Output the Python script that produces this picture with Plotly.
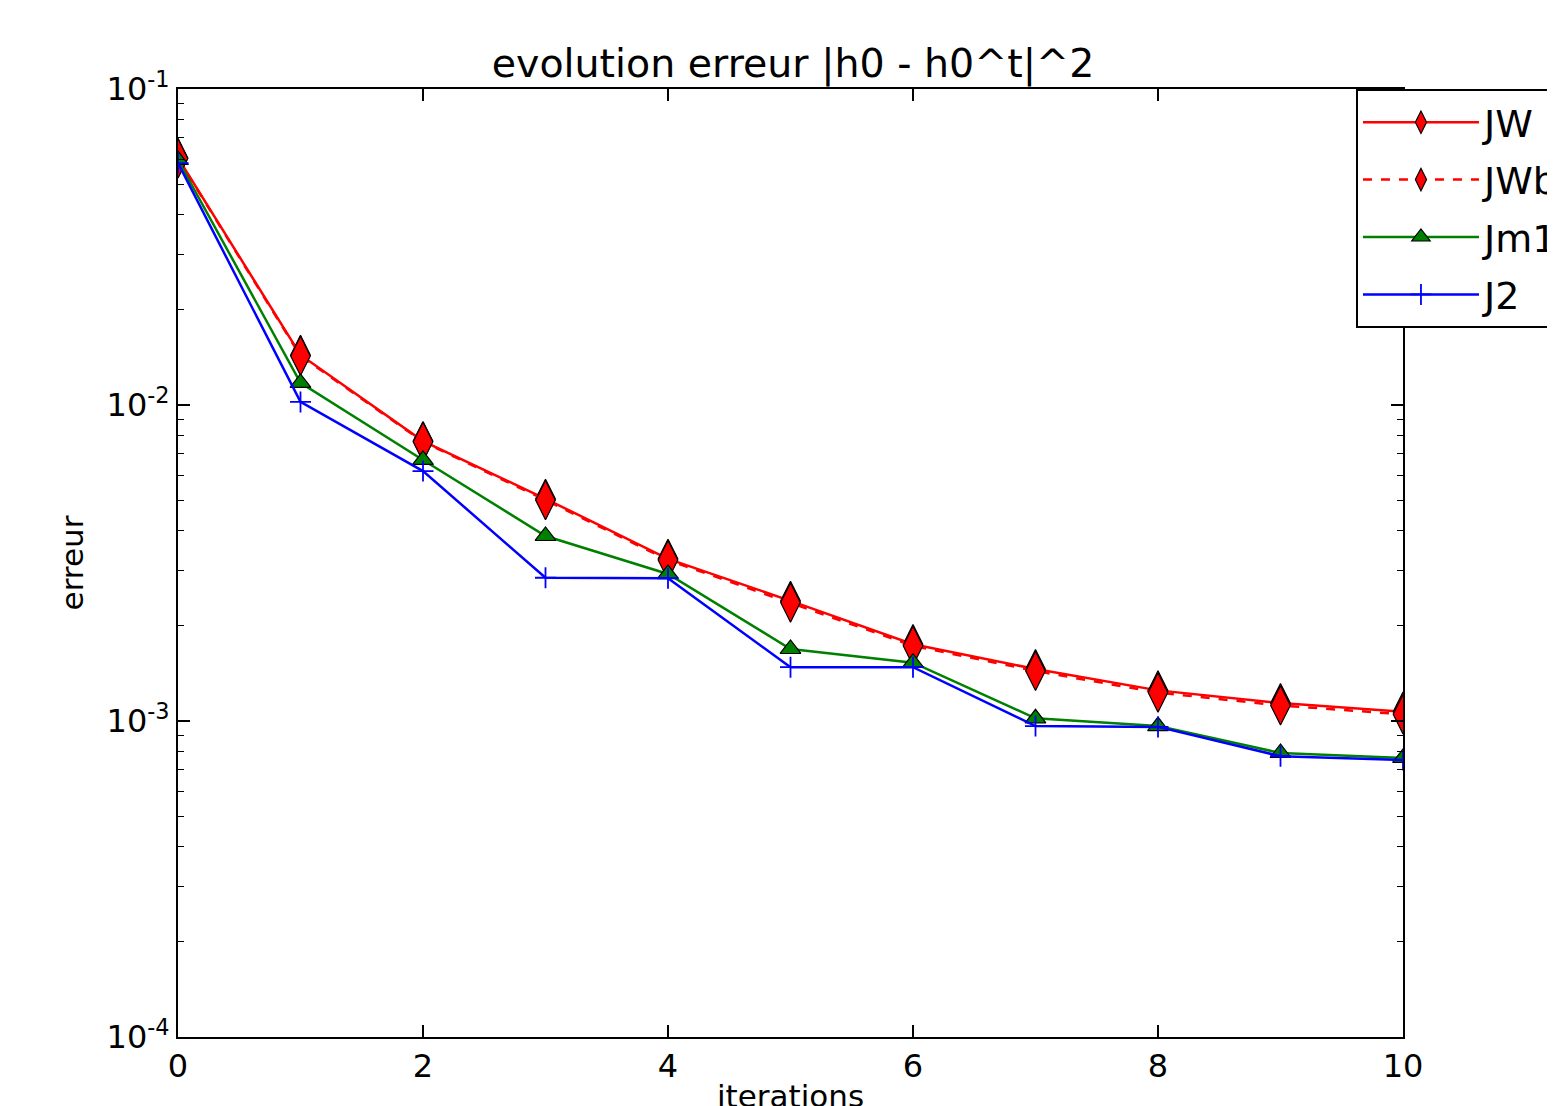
import plotly.graph_objects as go

iterations = [0, 1, 2, 3, 4, 5, 6, 7, 8, 9, 10]
err_JW = [0.0605, 0.0144, 0.00769, 0.00505, 0.00326, 0.00240, 0.00175, 0.00146, 0.00125, 0.00114, 0.00107]
err_JWb = [0.0603, 0.0143, 0.00765, 0.00500, 0.00323, 0.00237, 0.00173, 0.00144, 0.00123, 0.00112, 0.00105]
err_Jm1 = [0.0596, 0.01175, 0.00670, 0.00385, 0.00292, 0.00169, 0.00153, 0.00102, 0.000964, 0.000792, 0.000764]
err_J2 = [0.0583, 0.01023, 0.00618, 0.00284, 0.00283, 0.00148, 0.00148, 0.000964, 0.000958, 0.000774, 0.000753]

y_tickvals = [1e-4, 1e-3, 1e-2, 1e-1]
y_ticktext = ["10<sup>-4</sup>", "10<sup>-3</sup>", "10<sup>-2</sup>", "10<sup>-1</sup>"]
x_tickvals = [0, 2, 4, 6, 8, 10]

FONT = "DejaVu Sans"

fig = go.Figure()
fig.add_trace(go.Scatter(
    x=iterations, y=err_JW, name="JW", mode="lines+markers", legendgroup="a",
    line=dict(color="#ff0000", width=2.5),
    marker=dict(symbol="diamond-tall", size=28, color="#ff0000",
                line=dict(color="#000000", width=1.2)),
))
fig.add_trace(go.Scatter(
    x=iterations, y=err_JWb, name="JWb", mode="lines+markers", legendgroup="b",
    line=dict(color="#ff0000", width=2.5, dash="dash"),
    marker=dict(symbol="diamond-tall", size=28, color="#ff0000",
                line=dict(color="#000000", width=1.2)),
))
fig.add_trace(go.Scatter(
    x=iterations, y=err_Jm1, name="Jm1", mode="lines+markers", legendgroup="c",
    line=dict(color="#008000", width=2.5),
    marker=dict(symbol="triangle-up", size=18, color="#008000",
                line=dict(color="#000000", width=1.2)),
))
fig.add_trace(go.Scatter(
    x=iterations, y=err_J2, name="J2", mode="lines+markers", legendgroup="d",
    line=dict(color="#0000ff", width=2.5),
    marker=dict(symbol="cross-thin", size=15, color="#0000ff",
                line=dict(color="#0000ff", width=1.8)),
))

fig.update_layout(
    width=1555, height=1106,
    margin=dict(l=170, r=160, t=81, b=77, autoexpand=False),
    paper_bgcolor="white", plot_bgcolor="white",
    font=dict(family=FONT, color="#000000", size=32),
    title=dict(text="evolution erreur |h0 - h0^t|^2", x=785 / 1555, xanchor="center",
               y=1 - 55 / 1106, yanchor="middle", yref="container",
               font=dict(family=FONT, size=39.5, color="#000000")),
    showlegend=True,
    legend=dict(x=0.9616, xanchor="left", y=1, yanchor="top",
                bgcolor="white", bordercolor="#000000", borderwidth=2,
                font=dict(family=FONT, size=38, color="#000000"),
                itemwidth=116, tracegroupgap=5),
)

fig.update_xaxes(
    range=[0, 10], tickmode="array", tickvals=x_tickvals,
    ticks="inside", ticklen=12, tickwidth=1.5, tickcolor="#000000",
    showline=True, linecolor="#000000", linewidth=2, mirror="allticks",
    showgrid=False, zeroline=False,
    tickfont=dict(family=FONT, size=32),
    title=dict(text="iterations", font=dict(family=FONT, size=31), standoff=19),
)
fig.update_yaxes(
    type="log", range=[-4, -1], tickmode="array", tickvals=y_tickvals, ticktext=y_ticktext,
    ticks="inside", ticklen=12, tickwidth=1.5, tickcolor="#000000",
    minor=dict(ticks="inside", ticklen=6, tickwidth=1.2, tickcolor="#000000", showgrid=False, dtick="D1"),
    showline=True, linecolor="#000000", linewidth=2, mirror="allticks",
    showgrid=False, zeroline=False,
    tickfont=dict(family=FONT, size=32),
    title=dict(text="erreur", font=dict(family=FONT, size=31), standoff=14),
)

fig.write_html("out.html")
